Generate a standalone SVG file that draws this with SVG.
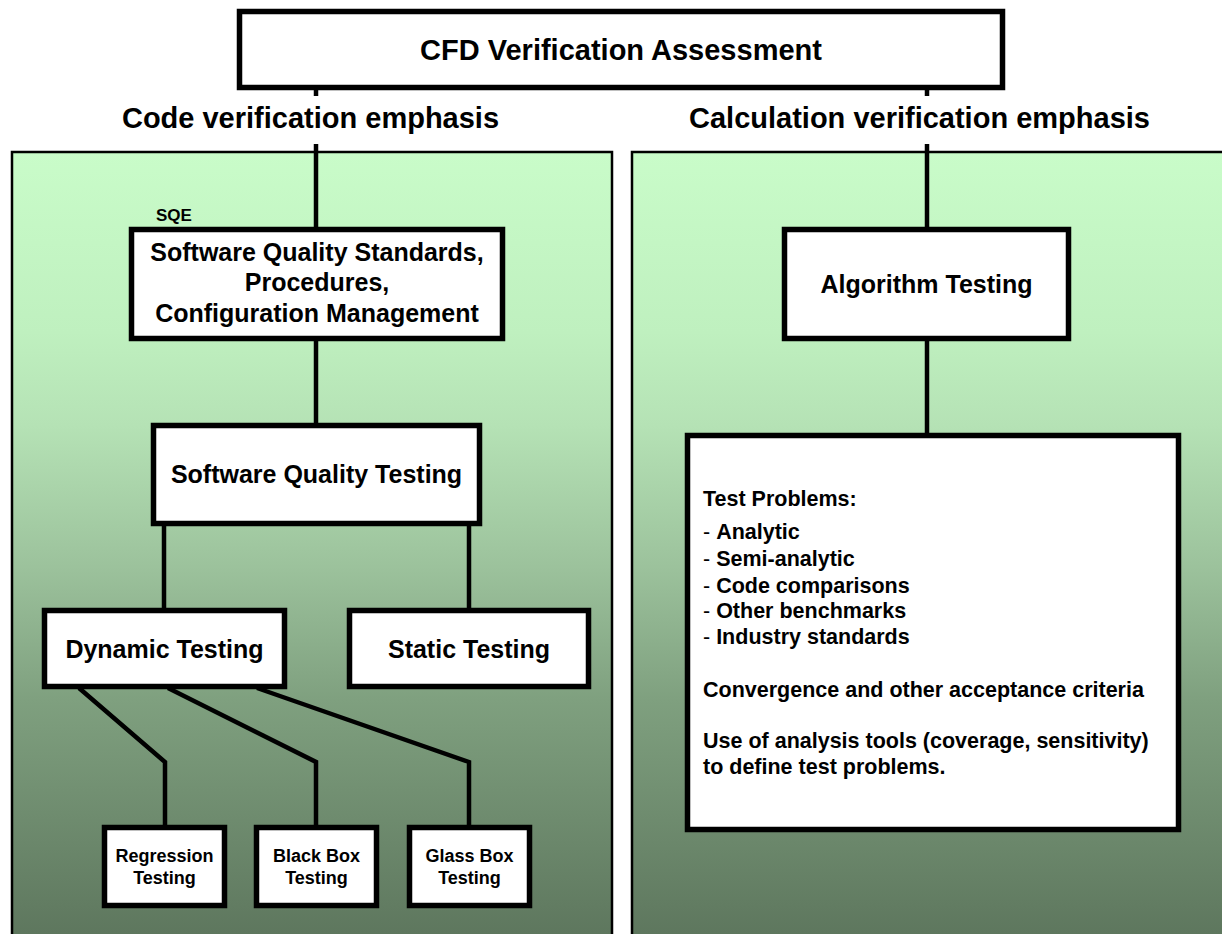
<svg xmlns="http://www.w3.org/2000/svg" width="1222" height="934" viewBox="0 0 1222 934">
<defs>
<linearGradient id="bg" gradientUnits="userSpaceOnUse" x1="0" y1="152" x2="0" y2="934">
<stop offset="0" stop-color="#C9FCC9"/>
<stop offset="0.23" stop-color="#BFF0BF"/>
<stop offset="0.35" stop-color="#B5E2B5"/>
<stop offset="0.53" stop-color="#9CC29C"/>
<stop offset="0.7" stop-color="#7FA07F"/>
<stop offset="1" stop-color="#5E775E"/>
</linearGradient>
<style>
.panel{fill:url(#bg);stroke:#000;stroke-width:2.5}
.box{fill:#fff;stroke:#000;stroke-width:5.5}
.conn{fill:none;stroke:#000;stroke-width:4.5;stroke-linejoin:miter}
text{font-family:"Liberation Sans",Arial,Helvetica,sans-serif;font-weight:bold;fill:#000}
.t29{font-size:29px;text-anchor:middle}
.t25{font-size:25px;text-anchor:middle}
.t18{font-size:18px;text-anchor:middle}
.t17{font-size:17px}
.tp{font-size:21.5px}
.reg{font-weight:normal}
</style>
</defs>
<rect width="1222" height="934" fill="#fff"/>
<g id="left-panel">
<rect class="panel" x="12" y="152" width="600" height="800"/>
</g>
<g id="right-panel">
<rect class="panel" x="632" y="152" width="620" height="800"/>
</g>
<g id="connectors">
<line class="conn" x1="316" y1="88" x2="316" y2="96"/>
<line class="conn" x1="927" y1="88" x2="927" y2="96"/>
<line class="conn" x1="316" y1="144" x2="316" y2="229"/>
<line class="conn" x1="316" y1="339" x2="316" y2="425"/>
<line class="conn" x1="164" y1="524" x2="164" y2="610"/>
<line class="conn" x1="469" y1="524" x2="469" y2="610"/>
<polyline class="conn" points="79,688 165,762 165,827"/>
<polyline class="conn" points="168,688 316,762 316,827"/>
<polyline class="conn" points="257,688 469,762 469,827"/>
<line class="conn" x1="927" y1="144" x2="927" y2="229"/>
<line class="conn" x1="927" y1="339" x2="927" y2="435"/>
</g>
<g id="title">
<rect class="box" x="239.5" y="11.5" width="763" height="76"/>
<text class="t29" x="621" y="60">CFD Verification Assessment</text>
</g>
<g id="code-heading">
<text class="t29" x="310.5" y="128">Code verification emphasis</text>
</g>
<g id="calc-heading">
<text class="t29" x="919.5" y="128">Calculation verification emphasis</text>
</g>
<g id="sqe-label">
<text class="t17" x="156" y="221">SQE</text>
</g>
<g id="sqe">
<rect class="box" x="131.5" y="229.5" width="371" height="109"/>
<text class="t25" x="317" y="261">Software Quality Standards,</text>
<text class="t25" x="317" y="291">Procedures,</text>
<text class="t25" x="317" y="322">Configuration Management</text>
</g>
<g id="sqt">
<rect class="box" x="153.5" y="425.5" width="326" height="98"/>
<text class="t25" x="316.5" y="483">Software Quality Testing</text>
</g>
<g id="dynamic">
<rect class="box" x="44.5" y="610.5" width="240" height="76"/>
<text class="t25" x="164.5" y="658">Dynamic Testing</text>
</g>
<g id="static">
<rect class="box" x="349.5" y="610.5" width="239" height="76"/>
<text class="t25" x="469" y="658">Static Testing</text>
</g>
<g id="regression">
<rect class="box" x="104.5" y="827.5" width="120" height="78"/>
<text class="t18" x="164.5" y="862">Regression</text>
<text class="t18" x="164.5" y="884">Testing</text>
</g>
<g id="blackbox">
<rect class="box" x="256.5" y="827.5" width="120" height="78"/>
<text class="t18" x="316.5" y="862">Black Box</text>
<text class="t18" x="316.5" y="884">Testing</text>
</g>
<g id="glassbox">
<rect class="box" x="409.5" y="827.5" width="120" height="78"/>
<text class="t18" x="469.5" y="862">Glass Box</text>
<text class="t18" x="469.5" y="884">Testing</text>
</g>
<g id="algorithm">
<rect class="box" x="784.5" y="229.5" width="284" height="109"/>
<text class="t25" x="926.5" y="293">Algorithm Testing</text>
</g>
<g id="test-problems">
<rect class="box" x="687.5" y="435.5" width="491" height="394"/>
<text class="tp" x="703" y="506">Test Problems:</text>
<text class="tp" x="703" y="539"><tspan class="reg">- </tspan>Analytic</text>
<text class="tp" x="703" y="566"><tspan class="reg">- </tspan>Semi-analytic</text>
<text class="tp" x="703" y="593"><tspan class="reg">- </tspan>Code comparisons</text>
<text class="tp" x="703" y="618"><tspan class="reg">- </tspan>Other benchmarks</text>
<text class="tp" x="703" y="644"><tspan class="reg">- </tspan>Industry standards</text>
<text class="tp" x="703" y="697">Convergence and other acceptance criteria</text>
<text class="tp" x="703" y="748">Use of analysis tools (coverage, sensitivity)</text>
<text class="tp" x="703" y="774">to define test problems.</text>
</g>
</svg>
